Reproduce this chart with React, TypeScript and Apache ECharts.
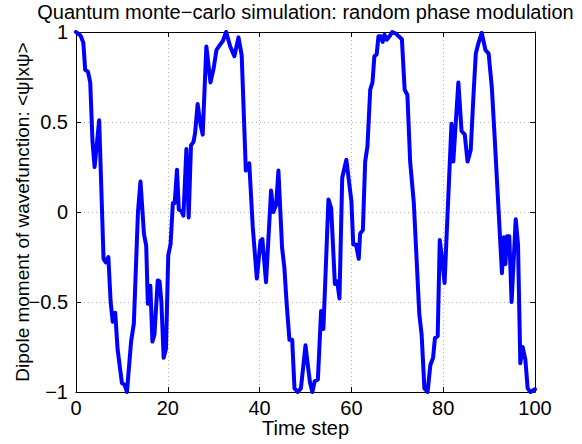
import React, { useEffect, useRef } from "react";
import * as echarts from "echarts";

const titleText = "Quantum monte\u2212carlo simulation: random phase modulation";
const xLabel = "Time step";
const yLabel = "Dipole moment of wavefunction: <\u03c8|x\u03c8>";

const timeSteps = [
  0, 1.0, 1.6, 2.0, 2.6, 3.1, 3.6, 4.05, 5.05, 6.0, 6.5, 7.05, 7.55, 8.0, 8.55, 9.05, 10.0, 10.6, 11.1, 12.0,
  12.6, 13.5, 14.05, 14.8, 15.3, 15.65, 16.2, 16.65, 17.1, 17.8, 18.2, 18.6, 19.1, 19.6, 20.1, 20.6, 21.1, 21.5, 22.0, 22.4,
  22.9, 23.4, 24.05, 24.55, 25.05, 25.6, 25.95, 26.5, 27.1, 27.6, 28.4, 29.3, 30.0, 30.6, 31.4, 32.0, 32.7, 33.6, 34.5, 35.4,
  36.1, 37.0, 37.75, 38.5, 39.4, 40.2, 40.6, 41.4, 42.5, 43.0, 43.6, 44.1, 44.9, 45.4, 45.9, 46.5, 47.1, 47.6, 48.3, 49.0,
  50.0, 50.5, 51.0, 51.5, 52.0, 52.7, 53.4, 53.9, 55.0, 55.6, 56.4, 56.9, 57.4, 58.0, 58.9, 60.0, 60.4, 61.0, 61.6, 61.9,
  62.5, 63.0, 63.5, 64.1, 64.6, 65.0, 65.5, 65.9, 66.4, 66.8, 67.2, 67.7, 68.3, 68.9, 69.8, 70.3, 71.0, 71.6, 72.2, 72.8,
  73.6, 74.8, 75.3, 75.9, 76.6, 77.2, 77.8, 78.2, 78.8, 79.25, 79.8, 80.3, 81.8, 82.2, 83.3, 84.0, 84.7, 85.3, 86.0, 86.6,
  87.1, 87.7, 88.4, 89.2, 89.9, 90.6, 91.2, 92.8, 93.2, 93.55, 93.9, 94.4, 94.9, 95.8, 96.3, 96.8, 97.3, 97.9, 98.4, 99.0,
  100,
];

const dipoleValues = [
  1.0, 0.98, 0.94, 0.79, 0.78, 0.72, 0.39, 0.25, 0.51, -0.26, -0.28, -0.25, -0.5, -0.61, -0.56, -0.76, -0.95, -0.96, -1.0, -0.72,
  -0.62, 0.0, 0.17, -0.12, -0.19, -0.51, -0.41, -0.72, -0.68, -0.38, -0.385, -0.5, -0.81, -0.76, -0.24, -0.18, 0.05, 0.05, 0.235, 0.013,
  0.007, -0.02, 0.35, -0.03, 0.37, 0.39, 0.44, 0.6, 0.49, 0.43, 0.92, 0.72, 0.8, 0.9, 0.93, 0.95, 1.0, 0.92, 0.865, 0.97,
  0.87, 0.23, 0.27, -0.08, -0.37, -0.16, -0.15, -0.39, 0.12, 0.0, 0.04, 0.23, -0.2, -0.31, -0.51, -0.71, -0.71, -0.98, -1.0, -0.98,
  -0.74, -0.85, -0.95, -1.0, -0.94, -0.93, -0.55, -0.65, 0.07, 0.02, -0.4, -0.385, -0.48, 0.19, 0.29, 0.06, -0.18, -0.18, -0.26, -0.12,
  -0.1, 0.28, 0.365, 0.68, 0.72, 0.865, 0.875, 0.976, 0.976, 0.945, 0.985, 0.957, 0.976, 1.0, 0.99, 0.976, 0.96, 0.68, 0.65, 0.28,
  0.05, -0.57, -0.68, -0.98, -1.0, -0.85, -0.81, -0.7, -0.69, -0.155, -0.27, -0.395, 0.49, 0.28, 0.72, 0.45, 0.43, 0.28, 0.345, 0.65,
  0.88, 0.94, 0.995, 0.9, 0.88, 0.69, 0.42, -0.34, -0.14, -0.29, -0.135, -0.135, -0.5, -0.04, -0.18, -0.84, -0.75, -0.82, -0.98, -1.0,
  -0.985,
];

const xTickValues = [0, 20, 40, 60, 80, 100];
const yTickValues = [-1, -0.5, 0, 0.5, 1];

const FONT = "'Liberation Sans', Arial, Helvetica, sans-serif";

const fmtNum = (v: number) => {
  const s = String(Math.round(v * 1000) / 1000);
  return s.replace("-", "\u2212");
};

export default function App() {
  const ref = useRef<HTMLDivElement>(null);

  useEffect(() => {
    if (!ref.current) return;
    const chart = echarts.init(ref.current, null, { renderer: "svg" });
    const data = timeSteps.map((t, i) => [t, dipoleValues[i]]);

    const gridLeft = 76;
    const gridRight = 47;
    const gridTop = 32;
    const gridBottom = 52;

    const axisLineStyle = { color: "#000", width: 1 };
    const tickStyle = { show: true, inside: true, length: 5, lineStyle: { color: "#000", width: 1 } };
    const splitStyle = { show: true, lineStyle: { color: "#b4b4b4", width: 1, type: [1, 3] as any } };

    chart.setOption({
      animation: false,
      backgroundColor: "#fff",
      textStyle: { fontFamily: FONT },
      grid: {
        left: gridLeft,
        right: gridRight,
        top: gridTop,
        bottom: gridBottom,
        containLabel: false,
        outerBoundsMode: "none",
      },
      graphic: [
        {
          type: "text",
          x: gridLeft + (582 - gridLeft - gridRight) / 2,
          y: 2,
          style: {
            text: titleText,
            fontFamily: FONT,
            fontSize: 20,
            fill: "#000",
            align: "center",
            verticalAlign: "top",
          },
        },
      ],
      xAxis: [
        {
          type: "value",
          min: 0,
          max: 100,
          interval: 20,
          position: "bottom",
          name: xLabel,
          nameLocation: "middle",
          nameGap: 26,
          nameMoveOverlap: false,
          nameTextStyle: { fontFamily: FONT, fontSize: 20, color: "#000" },
          axisLine: { show: true, onZero: false, lineStyle: axisLineStyle },
          axisTick: tickStyle,
          axisLabel: {
            show: true,
            margin: 6,
            fontFamily: FONT,
            fontSize: 20,
            color: "#000",
            formatter: (v: number) => (xTickValues.includes(v) ? fmtNum(v) : ""),
          },
          splitLine: splitStyle,
        },
        {
          type: "value",
          min: 0,
          max: 100,
          interval: 20,
          position: "top",
          axisLine: { show: true, onZero: false, lineStyle: axisLineStyle },
          axisTick: tickStyle,
          axisLabel: { show: false },
          splitLine: { show: false },
        },
      ],
      yAxis: [
        {
          type: "value",
          min: -1,
          max: 1,
          interval: 0.5,
          position: "left",
          name: yLabel,
          nameLocation: "middle",
          nameGap: 44,
          nameRotate: 90,
          nameMoveOverlap: false,
          nameTextStyle: { fontFamily: FONT, fontSize: 19, color: "#000" },
          axisLine: { show: true, onZero: false, lineStyle: axisLineStyle },
          axisTick: tickStyle,
          axisLabel: {
            show: true,
            margin: 8,
            fontFamily: FONT,
            fontSize: 20,
            color: "#000",
            formatter: (v: number) => (yTickValues.some((y) => Math.abs(y - v) < 1e-9) ? fmtNum(v) : ""),
          },
          splitLine: splitStyle,
        },
        {
          type: "value",
          min: -1,
          max: 1,
          interval: 0.5,
          position: "right",
          axisLine: { show: true, onZero: false, lineStyle: axisLineStyle },
          axisTick: tickStyle,
          axisLabel: { show: false },
          splitLine: { show: false },
        },
      ],
      series: [
        {
          type: "line",
          xAxisIndex: 0,
          yAxisIndex: 0,
          data,
          showSymbol: false,
          symbol: "none",
          smooth: false,
          lineStyle: { color: "#0000ff", width: 4, join: "round", cap: "round" },
          itemStyle: { color: "#0000ff" },
        },
      ],
    });

    return () => chart.dispose();
  }, []);

  return (
    <div
      ref={ref}
      style={{ position: "fixed", left: 0, top: 0, width: 582, height: 444, background: "#fff" }}
    />
  );
}
